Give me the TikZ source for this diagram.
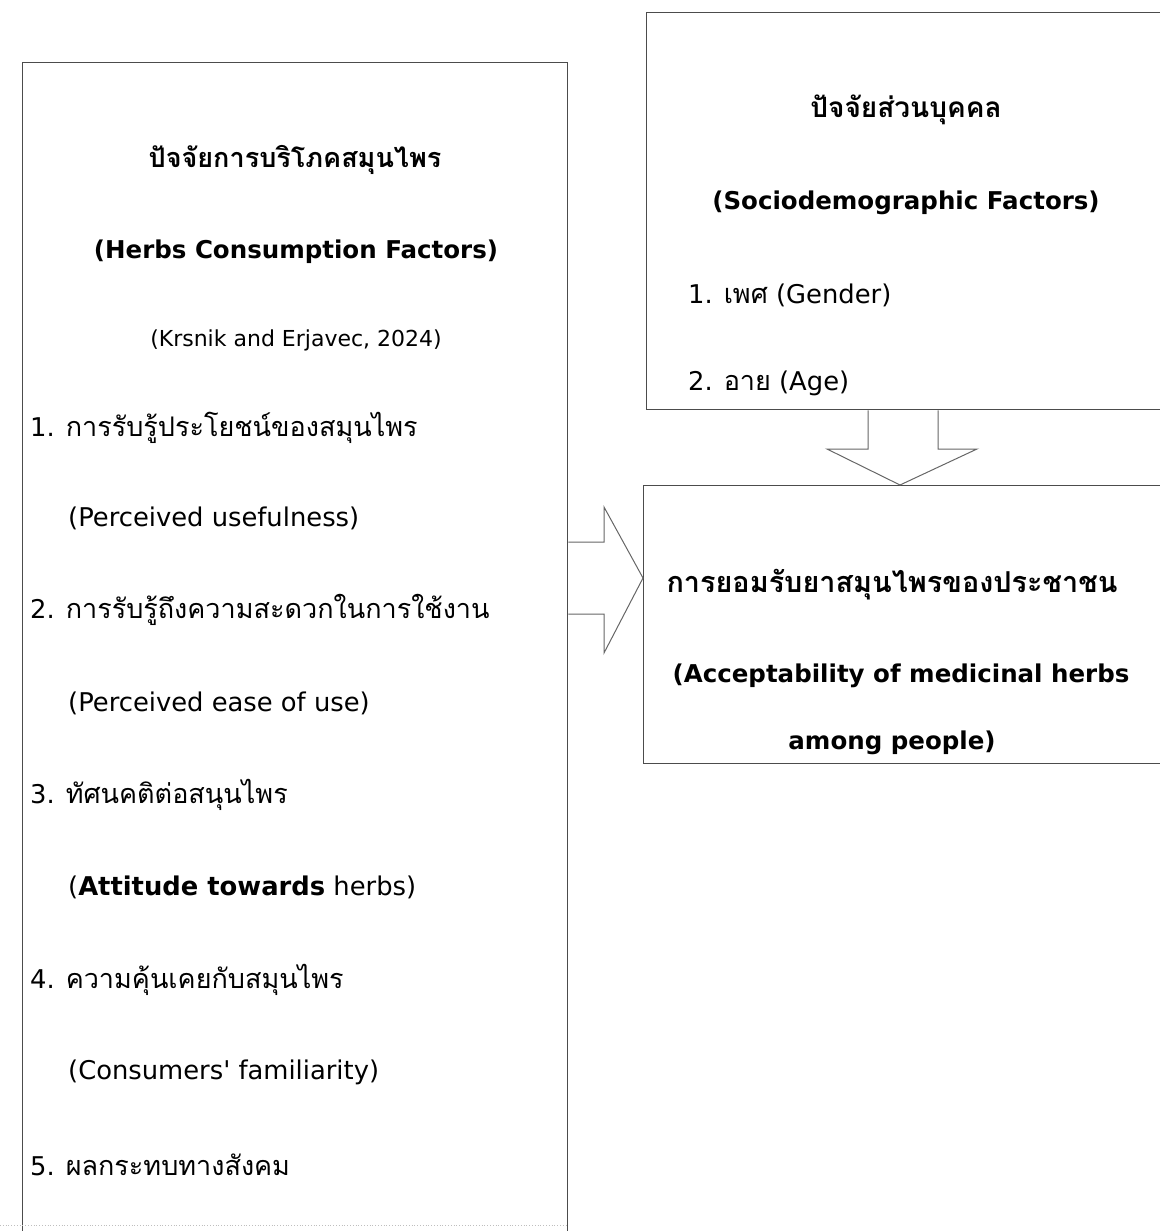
\documentclass[tikz,border=0pt]{standalone}
\usepackage{fontspec}
\setmainfont{DejaVu Sans}
\newfontfamily\thai[Script=Thai]{Loma}
\newcommand{\thtxt}[1]{{\thai\fontsize{27}{32}\selectfont #1}}
\newcommand{\thbig}[1]{{\thai\fontsize{28.8}{34}\selectfont\bfseries #1}}
\begin{document}
\begin{tikzpicture}[x=1pt,y=-1pt,
  framebox/.style={draw=black!70, line width=1.3pt, inner sep=0, anchor=north west},
  blk/.style={draw=black!60, line width=1pt, line join=miter},
  hd/.style={font=\fontsize{24.5}{29}\selectfont\bfseries, inner sep=0, anchor=center},
  itm/.style={font=\fontsize{25.8}{30}\selectfont, inner sep=0, anchor=west},
  cite/.style={font=\fontsize{22}{26}\selectfont, inner sep=0, anchor=center}]
\useasboundingbox (0,0) rectangle (1159,1231);
% boxes
\node[framebox, minimum width=545pt, minimum height=1200pt] (left) at (22,62) {};
\node[framebox, minimum width=530pt, minimum height=397pt] (top) at (646,12) {};
\node[framebox, minimum width=530pt, minimum height=278pt] (bot) at (643,485) {};
\draw[black!25, dotted, line width=0.8pt] (0,1225) -- (left.east |- 0,1225);
% left texts
\node[hd] (l1) at (295,160) {\thtxt{\bfseries ปัจจัยการบริโภคสมุนไพร}};
\node[hd] (l2) at (296,252) {(Herbs Consumption Factors)};
\node[cite] (l3) at (296,340) {(Krsnik and Erjavec, 2024)};
\node[itm] (a1) at (30,428) {1. \thtxt{การรับรู้ประโยชน์ของสมุนไพร}};
\node[itm] (a2) at (68,518) {(Perceived usefulness)};
\node[itm] (b1) at (30,610) {2. \thtxt{การรับรู้ถึงความสะดวกในการใช้งาน}};
\node[itm] (b2) at (68,703) {(Perceived ease of use)};
\node[itm] (c1) at (30,795) {3. \thtxt{ทัศนคติต่อสนุนไพร}};
\node[itm] (c2) at (68,887) {(\textbf{Attitude towards} herbs)};
\node[itm] (d1) at (30,980) {4. \thtxt{ความคุ้นเคยกับสมุนไพร}};
\node[itm] (d2) at (68,1072) {(Consumers\textquotesingle\ familiarity)};
\node[itm] (e1) at (30,1165) {5. \thtxt{ผลกระทบทางสังคม}};
% top right texts
\node[hd] (t1) at (906,110) {{\thai\fontsize{28}{33}\selectfont\bfseries ปัจจัยส่วนบุคคล}};
\node[hd] (t2) at (906,203) {(Sociodemographic Factors)};
\node[itm] (t3) at (688,295) {1. \thtxt{เพศ} (Gender)};
\node[itm] (t4) at (688,383) {2. \thtxt{อาย} (Age)};
% bottom right texts
\node[hd] (r1) at (892,585) {\thbig{การยอมรับยาสมุนไพรของประชาชน}};
\node[hd] (r2) at (901,676) {(Acceptability of medicinal herbs};
\node[hd] (r3) at (892,743) {among people)};
% block arrows
\coordinate (ya) at (0,542);
\coordinate (yb) at (0,614);
\draw[blk] (left.east |- ya) -- (604,542) -- (604,507) -- (bot.west |- 0,578) -- (604,653) -- (604,614) -- (left.east |- yb);
\draw[blk] (top.south -| 868,0) -- (868,449) -- (827,449) -- (bot.north -| 900,0) -- (977,449) -- (938,449) -- (top.south -| 938,0);
\end{tikzpicture}
\end{document}
